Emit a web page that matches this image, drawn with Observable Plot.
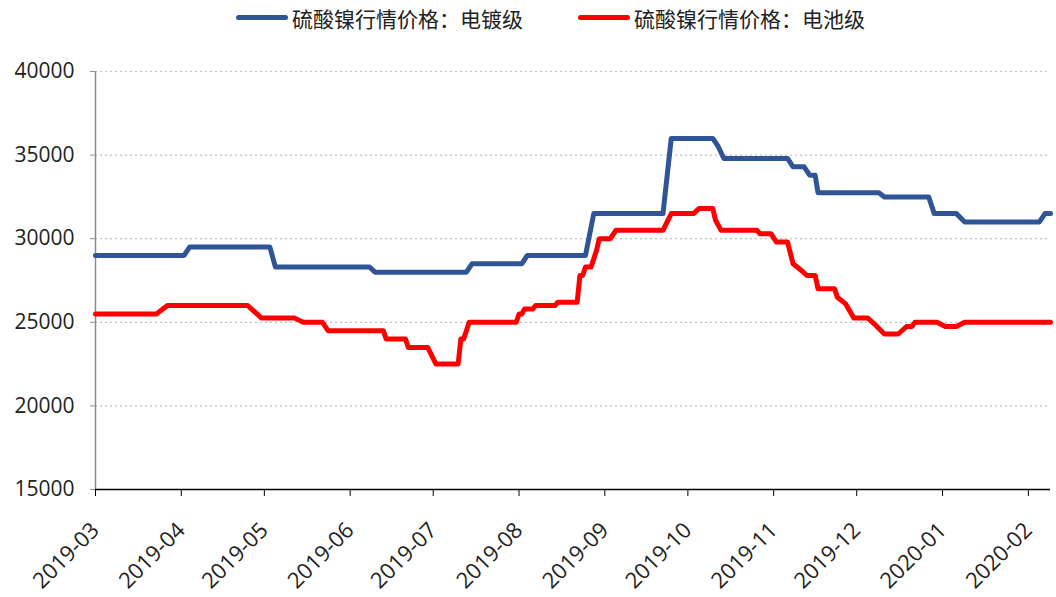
<!DOCTYPE html>
<html>
<head>
<meta charset="utf-8">
<script src="https://cdn.jsdelivr.net/npm/d3@7"></script>
<script src="https://cdn.jsdelivr.net/npm/@observablehq/plot@0.6"></script>
<style>
  html, body { margin: 0; padding: 0; background: #fff; }
  #wrap { width: 1056px; height: 597px; position: relative; overflow: hidden; }
  #legend { height: 35px; position: relative; font-family: "Noto Sans CJK SC", "Open Sans", sans-serif; font-size: 21px; color: #222; }
  .item { position: absolute; top: 0; height: 35px; display: flex; align-items: center; white-space: nowrap; }
  .sw { width: 52px; height: 5px; border-radius: 3px; margin-right: 4px; }
  svg { display: block; }
</style>
</head>
<body>
<div id="wrap">
  <div id="legend"></div>
  <div id="chart"></div>
</div>
<script>
// Series names
const seriesNames = ["硫酸镍行情价格：电镀级", "硫酸镍行情价格：电池级"];
const seriesColors = ["#2f5597", "#ff0000"];

// 电镀级 (blue) breakpoints
const platingDates = ["2019-03-01","2019-04-02","2019-04-04","2019-05-03","2019-05-05","2019-06-08","2019-06-10","2019-07-13","2019-07-15","2019-08-02","2019-08-04","2019-08-25","2019-08-28","2019-09-22","2019-09-25","2019-10-10","2019-10-12","2019-10-14","2019-11-06","2019-11-08","2019-11-12","2019-11-14","2019-11-16","2019-11-17","2019-12-09","2019-12-11","2019-12-27","2019-12-29","2020-01-06","2020-01-09","2020-02-05","2020-02-07","2020-02-09"];
const platingValues = [29000,29000,29500,29500,28300,28300,28000,28000,28500,28500,29000,29000,31500,31500,36000,36000,35500,34800,34800,34300,34300,33800,33800,32750,32750,32500,32500,31500,31500,31000,31000,31500,31500];

// 电池级 (red) breakpoints
const batteryDates = ["2019-03-01","2019-03-23","2019-03-27","2019-04-25","2019-04-30","2019-05-12","2019-05-15","2019-05-22","2019-05-24","2019-06-13","2019-06-14","2019-06-21","2019-06-22","2019-06-29","2019-07-02","2019-07-10","2019-07-11","2019-07-12","2019-07-14","2019-07-31","2019-08-01","2019-08-02","2019-08-03","2019-08-06","2019-08-07","2019-08-14","2019-08-15","2019-08-22","2019-08-23","2019-08-24","2019-08-25","2019-08-27","2019-08-29","2019-08-30","2019-09-03","2019-09-05","2019-09-22","2019-09-25","2019-10-03","2019-10-05","2019-10-10","2019-10-11","2019-10-13","2019-10-26","2019-10-27","2019-10-31","2019-11-02","2019-11-06","2019-11-08","2019-11-11","2019-11-13","2019-11-16","2019-11-17","2019-11-23","2019-11-24","2019-11-27","2019-11-30","2019-12-05","2019-12-08","2019-12-11","2019-12-16","2019-12-19","2019-12-21","2019-12-22","2019-12-30","2020-01-02","2020-01-06","2020-01-09","2020-02-09"];
const batteryValues = [25500,25500,26000,26000,25250,25250,25000,25000,24500,24500,24000,24000,23500,23500,22500,22500,24000,24000,25000,25000,25500,25500,25800,25800,26000,26000,26200,26200,27800,27800,28300,28300,29300,30000,30000,30500,30500,31500,31500,31800,31800,31100,30500,30500,30300,30300,29800,29800,28500,28100,27800,27800,27000,27000,26500,26100,25250,25250,24800,24300,24300,24750,24750,25000,25000,24750,24750,25000,25000];

// Axis ticks
const yTicks = [15000, 20000, 25000, 30000, 35000, 40000];
const xTickLabels = ["2019-03","2019-04","2019-05","2019-06","2019-07","2019-08","2019-09","2019-10","2019-11","2019-12","2020-01","2020-02"];
const xStart = "2019-03-01", xEnd = "2020-02-09";

const parse = d3.utcParse("%Y-%m-%d");
const rows = [];
platingDates.forEach((d, i) => rows.push({series: seriesNames[0], date: parse(d), value: platingValues[i]}));
batteryDates.forEach((d, i) => rows.push({series: seriesNames[1], date: parse(d), value: batteryValues[i]}));
const xTicks = xTickLabels.map(s => parse(s + "-01"));

// Legend
const legend = document.getElementById("legend");
const lefts = [236, 578];
seriesNames.forEach((n, i) => {
  const it = document.createElement("div");
  it.className = "item";
  it.style.left = lefts[i] + "px";
  it.innerHTML = `<span class="sw" style="background:${seriesColors[i]}"></span><span>${n}</span>`;
  legend.appendChild(it);
});

const chart = Plot.plot({
  width: 1056,
  height: 562,
  marginLeft: 95,
  marginRight: 6,
  marginTop: 36,
  marginBottom: 108,
  style: {fontFamily: "'Open Sans', 'Noto Sans CJK SC', sans-serif", fontSize: "21px", color: "#222", background: "#fff"},
  x: {type: "utc", domain: [parse(xStart), parse(xEnd)]},
  y: {domain: [15000, 40000]},
  color: {domain: seriesNames, range: seriesColors},
  marks: [
    Plot.gridY(yTicks.slice(1), {stroke: "#c0c0c0", strokeOpacity: 1, strokeDasharray: "2,3", strokeWidth: 1.2}),
    Plot.ruleX([parse(xStart)], {stroke: "#8c8c8c", strokeWidth: 1.5}),
    Plot.axisY({ticks: yTicks, tickSize: 5, tickPadding: 16, tickFormat: d => String(d), stroke: "#8c8c8c", label: null, fontSize: 21}),
    Plot.ruleY([15000], {stroke: "#000", strokeWidth: 1.5}),
    Plot.axisX({ticks: xTicks, tickFormat: () => "", tickSize: 7, stroke: "#000", label: null}),
    Plot.axisX({ticks: xTicks, tickFormat: d3.utcFormat("%Y-%m"), tickRotate: -45, tickSize: 0, tickPadding: 37, label: null, fontSize: 22}),
    Plot.line(rows, {x: "date", y: "value", z: "series", stroke: "series", strokeWidth: 5, strokeLinejoin: "round", strokeLinecap: "round"})
  ]
});
document.getElementById("chart").appendChild(chart);
</script>
</body>
</html>
